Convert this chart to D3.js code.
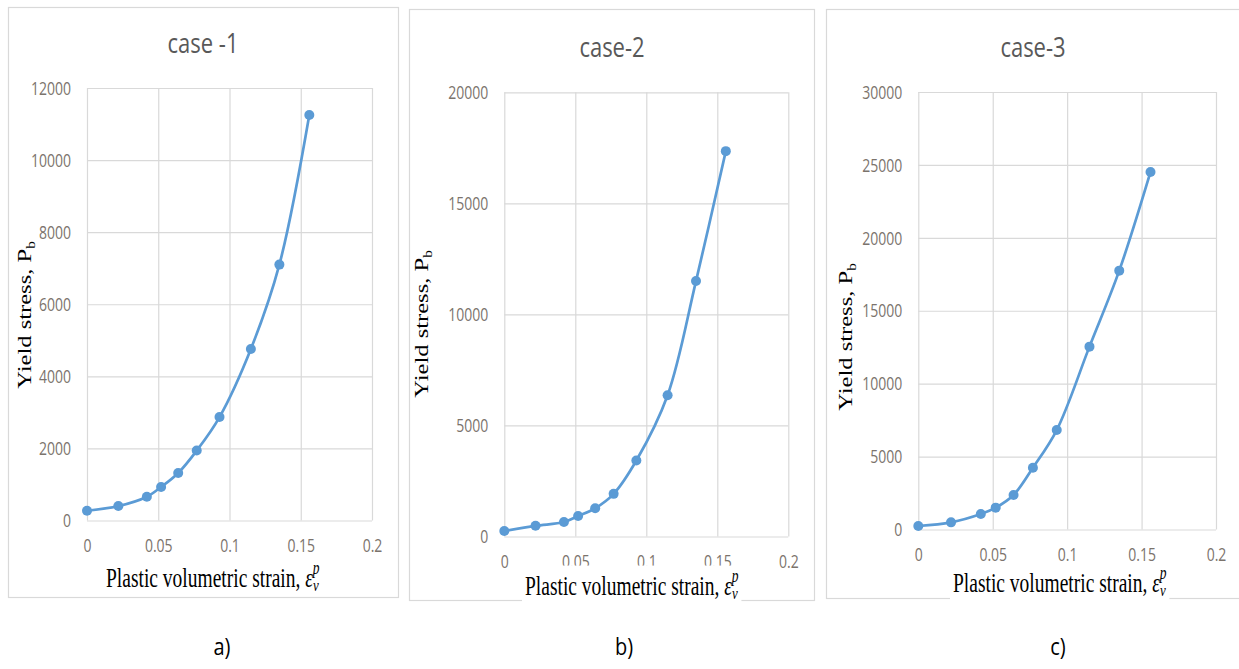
<!DOCTYPE html>
<html>
<head>
<meta charset="utf-8">
<script src="https://cdn.jsdelivr.net/npm/d3@7"></script>
<style>
    body { margin: 0; background: #fff; }
    svg { display: block; }
</style>
</head>
<body>
<div id="chart"></div>
<script>
const SVG_WIDTH = 1239;
const SVG_HEIGHT = 669;
const LINE_COLOR = "#5b9bd5";
const GRID_COLOR = "#d9d9d9";
const TICK_COLOR = "#7b736c";
const SANS = "'Open Sans', sans-serif";
const SERIF = "'Liberation Serif', 'Times New Roman', serif";

// data
const STRAIN = [0, 0.022, 0.042, 0.052, 0.064, 0.077, 0.093, 0.115, 0.135, 0.156];
const CASE1_STRESS = [270, 400, 660, 930, 1320, 1940, 2870, 4760, 7100, 11250];
const CASE2_STRESS = [250, 480, 650, 920, 1270, 1920, 3420, 6360, 11500, 17350];
const CASE3_STRESS = [240, 490, 1060, 1500, 2370, 4240, 6820, 12540, 17750, 24520];
const CASE_TITLES = ["case -1", "case-2", "case-3"];
const PANEL_LETTERS = ["a)", "b)", "c)"];
const X_TICKS = [0, 0.05, 0.1, 0.15, 0.2];
const Y_MAX = [12000, 20000, 30000];
const Y_STEP = [2000, 5000, 5000];

// layout of the three boxes
const PANELS = [
    { frame: [8, 7, 398, 597], plot: { left: 87, right: 372, top: 88, bottom: 520.5 },
      title: [203, 53], yLabel: [31, 315], xLabel: [106, 587], letter: 222, backing: false },
    { frame: [409, 9, 814, 600], plot: { left: 504.3, right: 788.3, top: 92.3, bottom: 536.5 },
      title: [612, 57], yLabel: [428, 324], xLabel: [525, 595], letter: 624, backing: true },
    { frame: [826, 9, 1241, 598], plot: { left: 918.3, right: 1216, top: 92, bottom: 529.5 },
      title: [1033, 57], yLabel: [852, 337], xLabel: [953, 592], letter: 1058, backing: true }
];

const getScales = (panel, yMax) => {
    const x = d3.scaleLinear()
        .domain([0, 0.2])
        .range([panel.plot.left, panel.plot.right]);

    const y = d3.scaleLinear()
        .domain([0, yMax])
        .range([panel.plot.bottom, panel.plot.top]);

    return { x, y };
};

const appendFrame = (svg, panel) => {
    const [x0, y0, x1, y1] = panel.frame;
    svg.append("rect")
        .attr("x", x0 + 0.5)
        .attr("y", y0 + 0.5)
        .attr("width", x1 - x0)
        .attr("height", y1 - y0)
        .attr("fill", "#fff")
        .attr("stroke", GRID_COLOR)
        .attr("stroke-width", 1.2);
};

const appendAxes = (svg, panel, scales, yMax, yStep) => {
    const p = panel.plot;
    const yTicks = d3.range(0, yMax + 1, yStep);

    const gy = svg.append("g")
        .attr("transform", `translate(${p.left},0)`)
        .call(d3.axisLeft(scales.y)
            .tickValues(yTicks)
            .tickSize(-(p.right - p.left))
            .tickFormat(d3.format("d")));
    gy.select(".domain").remove();
    gy.selectAll("line").attr("stroke", GRID_COLOR).attr("stroke-width", 1.2);
    gy.selectAll("text")
        .attr("x", 0)
        .attr("dy", "0.36em")
        .attr("transform", "translate(-16,0) scale(1,1.23)")
        .attr("fill", TICK_COLOR)
        .style("font-family", SANS)
        .style("font-size", "14px");

    const gx = svg.append("g")
        .attr("transform", `translate(0,${p.bottom})`)
        .call(d3.axisBottom(scales.x)
            .tickValues(X_TICKS)
            .tickSize(-(p.bottom - p.top))
            .tickFormat(d => String(d)));
    gx.select(".domain").remove();
    gx.selectAll("line").attr("stroke", GRID_COLOR).attr("stroke-width", 1.2);
    gx.selectAll("text")
        .attr("y", 0)
        .attr("dy", null)
        .attr("transform", "translate(0,31) scale(1,1.23)")
        .attr("fill", TICK_COLOR)
        .style("font-family", SANS)
        .style("font-size", "14px");
};

const appendLabels = (svg, panel, title, letter) => {
    svg.append("g")
        .attr("transform", `translate(${panel.title[0]},${panel.title[1]}) scale(1,1.28)`)
        .append("text")
        .attr("text-anchor", "middle")
        .attr("fill", "#595959")
        .style("font-family", SANS)
        .style("font-size", "22px")
        .text(title);

    // y label, rotated
    const yl = svg.append("g")
        .attr("transform", `translate(${panel.yLabel[0]},${panel.yLabel[1]}) rotate(-90) scale(1.26,1)`)
        .append("text")
        .attr("text-anchor", "middle")
        .attr("fill", "#000")
        .style("font-family", SERIF)
        .style("font-size", "19.5px");
    yl.append("tspan").text("Yield stress, P");
    yl.append("tspan").attr("dy", 4).style("font-size", "12px").text("b");

    // x label; in b) and c) it sits on a white box over the frame edge
    const xg = svg.append("g")
        .attr("transform", `translate(${panel.xLabel[0]},${panel.xLabel[1]}) scale(1,1.35)`);
    const back = xg.append("rect").attr("fill", "#fff");
    const xl = xg.append("text")
        .attr("fill", "#000")
        .style("font-family", SERIF)
        .style("font-size", "19.5px");
    xl.append("tspan").text("Plastic volumetric strain, ");
    xl.append("tspan").style("font-style", "italic").text("ε");
    xl.append("tspan").style("font-style", "italic").style("font-size", "13px").attr("dy", 3).text("v");
    xl.append("tspan").style("font-style", "italic").style("font-size", "13.5px").attr("dx", -6).attr("dy", -13).text("p");
    if (panel.backing) {
        const bb = xl.node().getBBox();
        back.attr("x", bb.x - 3).attr("y", bb.y).attr("width", bb.width + 6).attr("height", bb.height + 6);
    } else {
        back.remove();
    }

    svg.append("g")
        .attr("transform", `translate(${panel.letter},655) scale(1,1.2)`)
        .append("text")
        .attr("text-anchor", "middle")
        .attr("fill", "#000")
        .style("font-family", SANS)
        .style("font-size", "20px")
        .text(letter);
};

const appendData = (svg, stress, scales) => {
    const data = STRAIN.map((s, i) => ({ strain: s, stress: stress[i] }));

    const line = d3.line()
        .x(d => scales.x(d.strain))
        .y(d => scales.y(d.stress))
        .curve(d3.curveCatmullRom.alpha(0.5));

    svg.append("path")
        .datum(data)
        .attr("fill", "none")
        .attr("stroke", LINE_COLOR)
        .attr("stroke-width", 2.7)
        .attr("d", line);

    svg.selectAll(null)
        .data(data)
        .enter()
        .append("circle")
        .attr("cx", d => scales.x(d.strain))
        .attr("cy", d => scales.y(d.stress))
        .attr("r", 5)
        .attr("fill", LINE_COLOR);
};

const drawYieldCharts = (containerId) => {
    const container = d3.select("#" + containerId);
    container.html("");

    const svg = container.append("svg")
        .attr("width", SVG_WIDTH)
        .attr("height", SVG_HEIGHT);

    const allStress = [CASE1_STRESS, CASE2_STRESS, CASE3_STRESS];

    PANELS.forEach((panel, i) => {
        const scales = getScales(panel, Y_MAX[i]);
        appendFrame(svg, panel);
        appendAxes(svg, panel, scales, Y_MAX[i], Y_STEP[i]);
        appendData(svg, allStress[i], scales);
        appendLabels(svg, panel, CASE_TITLES[i], PANEL_LETTERS[i]);
    });
};

drawYieldCharts("chart");
</script>
</body>
</html>
